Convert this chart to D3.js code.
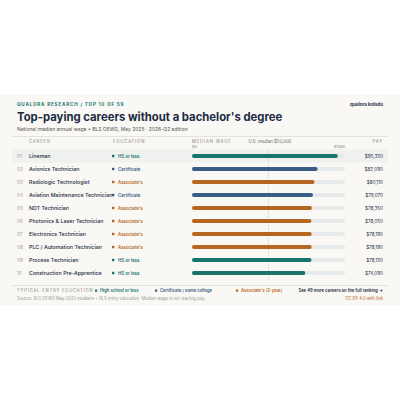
<!DOCTYPE html>
<html><head><meta charset="utf-8">
<script src="https://cdn.jsdelivr.net/npm/d3@7"></script>
<style>body{margin:0;background:#fff}svg{display:block;font-family:Inter,"Noto Sans",sans-serif}</style>
</head><body><div id="chart"></div>
<script>
var careers = ["Lineman","Avionics Technician","Radiologic Technologist","Aviation Maintenance Technician","NDT Technician","Photonics & Laser Technician","Electronics Technician","PLC / Automation Technician","Process Technician","Construction Pre-Apprentice"]
var education = ["hs","cert","assoc","cert","assoc","assoc","assoc","assoc","hs","hs"]
var pay = [95320,82090,80110,79070,78350,78050,78190,78190,78120,74090]
var eduLabels = {hs:"HS or less", cert:"Certificate", assoc:"Associate's"}
var eduColors = {hs:"#17756e", cert:"#385d84", assoc:"#b7661f"}

var W = 400, H = 400
var svg = d3.select('#chart').append('svg').attr('width', W).attr('height', H)
svg.append('rect').attr('x',0).attr('y',95).attr('width',W).attr('height',210).attr('fill','#f9f8f4')

var x = d3.scaleLinear().domain([0,100000]).range([192,345])
var y = d3.scaleBand().domain(d3.range(careers.length)).range([149.5,279.5])

function txt(t,px,py,size,fill,opt){
  opt = opt || {}
  return svg.append('text').text(t).attr('x',px).attr('y',py).attr('font-size',size).attr('fill',fill)
    .attr('font-weight',opt.w||400).attr('text-anchor',opt.a||'start').attr('letter-spacing',opt.ls||0)
}
txt('QUALORA RESEARCH / TOP 10 OF 59',17,106,4.6,'#17756e',{w:700,ls:0.8})
txt('qualora kolsdo',383,106,4.6,'#1c2b44',{w:700,a:'end'})
txt("Top-paying careers without a bachelor's degree",17,121,11.3,'#1c2b44',{w:700})
txt('National median annual wage • BLS OEWS, May 2025 · 2026-Q2 edition',17,131,5,'#555')
svg.append('line').attr('x1',12).attr('x2',388).attr('y1',136.5).attr('y2',136.5).attr('stroke','#e4e2dc')
txt('CAREER',29,143,4.3,'#888',{ls:0.8})
txt('EDUCATION',113,143,4.3,'#888',{ls:0.8})
txt('MEDIAN WAGE',192,143,4.3,'#888',{ls:0.8})
txt('U.S. median $50,000',x(50000)-20,143,4.3,'#666')
txt('PAY',383,143,4.3,'#888',{a:'end',ls:0.8})
txt('$0',x(0),148,3.8,'#888')
txt('$100K',x(100000),148,3.8,'#888',{a:'end'})

svg.append('rect').attr('x',12).attr('width',376).attr('y',y(0)).attr('height',y.bandwidth()).attr('rx',3).attr('fill','#eef1ee')
svg.append('line').attr('x1',x(50000)).attr('x2',x(50000)).attr('y1',150).attr('y2',280)
  .attr('stroke','#bbb').attr('stroke-width',0.6).attr('stroke-dasharray','1.5,1.5')

var rows = svg.selectAll('g.row').data(careers).join('g').attr('class','row')
  .attr('transform',function(d,i){return 'translate(0,'+(y(i)+y.bandwidth()/2)+')'})
rows.append('text').text(function(d,i){return d3.format('02')(i+1)}).attr('x',17).attr('dy','0.35em').attr('font-size',4.6).attr('fill','#999')
rows.append('text').text(function(d){return d}).attr('x',29).attr('dy','0.35em').attr('font-size',5.3).attr('font-weight',500).attr('fill','#1c2b44')
rows.append('rect').attr('x',112).attr('y',-1.2).attr('width',2.4).attr('height',2.4).attr('fill',function(d,i){return eduColors[education[i]]})
rows.append('text').text(function(d,i){return eduLabels[education[i]]}).attr('x',118).attr('dy','0.35em').attr('font-size',4.4).attr('font-weight',600).attr('fill',function(d,i){return eduColors[education[i]]})
rows.append('rect').attr('x',x(0)).attr('y',-2).attr('height',4).attr('rx',2).attr('width',x(100000)-x(0)).attr('fill','#e6eaea')
rows.append('rect').attr('x',x(0)).attr('y',-2).attr('height',4).attr('rx',2).attr('width',function(d,i){return x(pay[i])-x(0)}).attr('fill',function(d,i){return eduColors[education[i]]})
rows.append('text').text(function(d,i){return '$'+d3.format(',')(pay[i])}).attr('x',383).attr('text-anchor','end').attr('dy','0.35em').attr('font-size',4.6).attr('fill','#1c2b44')

svg.append('line').attr('x1',12).attr('x2',388).attr('y1',285.5).attr('y2',285.5).attr('stroke','#e4e2dc')
txt('TYPICAL ENTRY EDUCATION',17,292,4.2,'#888',{ls:0.8})
var leg = [['hs','High school or less',95],['cert','Certificate / some college',155],['assoc',"Associate's (2-year)",236]]
leg.forEach(function(l){
  svg.append('rect').attr('x',l[2]).attr('y',289.5).attr('width',2.2).attr('height',2.2).attr('fill',eduColors[l[0]])
  txt(l[1],l[2]+5,292,4.2,eduColors[l[0]],{w:600})
})
txt('See 49 more careers on the full ranking →',383,292,4.2,'#1c2b44',{a:'end',w:600})
txt('Source: BLS OEWS May 2025 medians + BLS entry education. Median wage is not starting pay.',17,300,4.2,'#999')
txt('CC BY 4.0 with link',383,300,4.2,'#b7661f',{a:'end'})
</script></body></html>
